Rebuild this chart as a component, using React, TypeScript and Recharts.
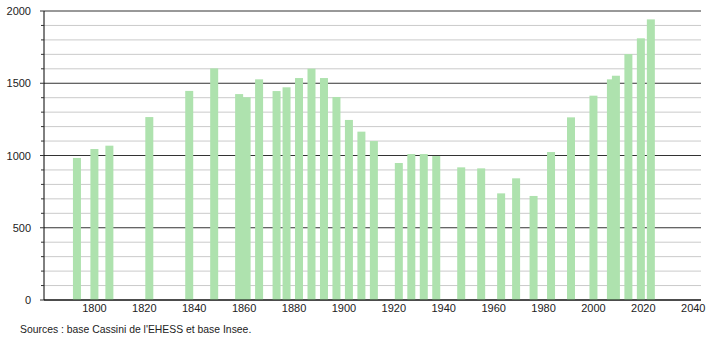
// Population bar chart (historical census counts), light green bars on a
// 100-step grid with darker lines every 500.

import { Bar, BarChart, CartesianGrid, XAxis, YAxis } from "recharts";

const YEARS = [
  1793, 1800, 1806, 1822, 1838, 1848, 1858, 1861, 1866, 1873, 1877, 1882, 1887, 1892,
  1897, 1902, 1907, 1912, 1922, 1927, 1932, 1937, 1947, 1955, 1963, 1969, 1976, 1983,
  1991, 2000, 2007, 2009, 2014, 2019, 2023,
];
const POPULATION = [
  983, 1045, 1068, 1266, 1447, 1603, 1425, 1403, 1527, 1446, 1472, 1536, 1601, 1536,
  1405, 1246, 1165, 1100, 948, 1010, 1010, 996, 918, 911, 738, 842, 720, 1024,
  1264, 1414, 1527, 1552, 1702, 1811, 1942,
];
const X_TICKS = [1800, 1820, 1840, 1860, 1880, 1900, 1920, 1940, 1960, 1980, 2000, 2020, 2040];
const Y_TICKS = Array.from({ length: 21 }, (_, i) => i * 100);
const SOURCE = "Sources : base Cassini de l'EHESS et base Insee.";

const data = YEARS.map((year, i) => ({ year, pop: POPULATION[i] }));

const FONT = "'Liberation Sans', Arial, sans-serif";
const BAR = "#aee2ae";
const TEXT = "#222";
const BAR_W = 8;

// plot box, used to tell major (every 500) from minor grid lines
const PLOT_TOP = 11;
const PLOT_BOTTOM = 300;

function YTick(props: { x: number; y: number; payload: { value: number } }) {
  const { y, payload } = props;
  const major = payload.value % 500 === 0;
  return (
    <g>
      <line x1={major ? 40 : 41} x2={44} y1={y} y2={y} stroke="#333" />
      {major && (
        <text x={31} y={y} textAnchor="end" dominantBaseline="central" fontSize={11} fill={TEXT} fontFamily={FONT}>
          {payload.value}
        </text>
      )}
    </g>
  );
}

function GridLine(props: { x1: number; x2: number; y1: number; y2: number }) {
  const v = Math.round((((PLOT_BOTTOM - props.y1) / (PLOT_BOTTOM - PLOT_TOP)) * 2000) / 100) * 100;
  const major = v % 500 === 0;
  return (
    <line
      x1={props.x1}
      x2={props.x2}
      y1={props.y1}
      y2={props.y2}
      stroke={major ? "#333" : "#cacaca"}
      strokeWidth={1}
    />
  );
}

// recharts squeezes bars to the smallest year gap; keep them 8px wide, centred
function WideBar(props: { x: number; y: number; width: number; height: number }) {
  const cx = props.x + props.width / 2;
  return <rect x={cx - BAR_W / 2} y={props.y} width={BAR_W} height={props.height} fill={BAR} />;
}

export default function App() {
  return (
    <div style={{ position: "absolute", left: 0, top: 0, width: 710, height: 340, background: "#fff" }}>
      <BarChart
        width={710}
        height={340}
        data={data}
        margin={{ top: PLOT_TOP, right: 9, left: 0, bottom: 20 }}
      >
        <CartesianGrid vertical={false} horizontal={(p: any) => <GridLine key={p.key ?? p.index} {...p} />} />
        <XAxis
          dataKey="year"
          type="number"
          domain={[1779.8, 2043.1]}
          allowDataOverflow
          ticks={X_TICKS}
          interval={0}
          height={20}
          tickLine={false}
          tickSize={0}
          tickMargin={4}
          axisLine={{ stroke: "#000" }}
          tick={{ fontSize: 11, fill: TEXT, fontFamily: FONT }}
        />
        <YAxis
          width={44}
          domain={[0, 2000]}
          ticks={Y_TICKS}
          interval={0}
          tickLine={false}
          axisLine={{ stroke: "#000" }}
          tick={(p: any) => <YTick {...p} />}
        />
        <Bar dataKey="pop" fill={BAR} isAnimationActive={false} shape={(p: any) => <WideBar {...p} />} />
      </BarChart>
      <div
        style={{
          position: "absolute",
          left: 20,
          top: 324,
          fontSize: 10.4,
          lineHeight: "12px",
          fontFamily: FONT,
          color: TEXT,
          whiteSpace: "nowrap",
        }}
      >
        {SOURCE}
      </div>
    </div>
  );
}
